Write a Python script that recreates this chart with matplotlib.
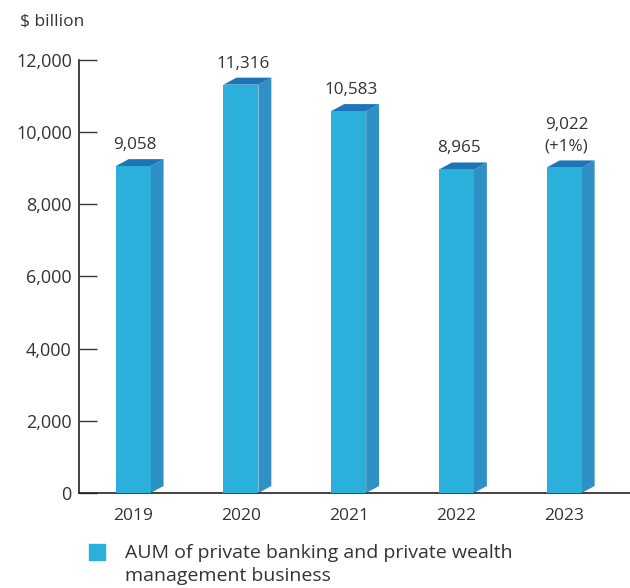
import matplotlib.pyplot as plt
from matplotlib.patches import Polygon, Rectangle

years = ["2019", "2020", "2021", "2022", "2023"]
aum = [9058, 11316, 10583, 8965, 9022]
value_labels = ["9,058", "11,316", "10,583", "8,965", "9,022\n(+1%)"]
yticks = [0, 2000, 4000, 6000, 8000, 10000, 12000]
legend_text = "AUM of private banking and private wealth\nmanagement business"

FRONT = "#2ab0db"
SIDE = "#2f90c6"
TOP = "#1b75b6"
TEXT = "#333333"

plt.rcParams['font.family'] = ['Open Sans', 'DejaVu Sans']

fig = plt.figure(figsize=(6.3, 5.88), dpi=100)
ax = fig.add_axes([0.125, 0.1616, 0.875, 0.7364])

width = 0.324
dx = 0.12      # depth of the fake 3d box, x units
dy = 194       # depth of the fake 3d box, y units

xs = list(range(len(years)))
ax.bar(xs, aum, width=width, color=FRONT, zorder=3)
for x, v in zip(xs, aum):
    r = x + width / 2
    l = x - width / 2
    side = [(r, 0), (r + dx, dy), (r + dx, v + dy), (r, v)]
    top = [(l, v), (r, v), (r + dx, v + dy), (l + dx, v + dy)]
    ax.add_patch(Polygon(side, closed=True, color=SIDE, lw=0, zorder=2))
    ax.add_patch(Polygon(top, closed=True, color=TOP, lw=0, zorder=2))

for x, v, lab in zip(xs, aum, value_labels):
    ax.text(x + 0.02, v + 360, lab, ha="center", va="bottom", fontsize=12.3,
            color=TEXT, linespacing=1.45)

ax.set_xlim(-0.505, 4.61)
ax.set_ylim(0, 12000)
ax.set_yticks(yticks)
ax.set_yticklabels([f"{t:,}" for t in yticks])
ax.set_xticks(xs)
ax.set_xticklabels(years)
ax.tick_params(axis="y", direction="in", length=13, width=1, colors=TEXT,
               labelsize=13, pad=5)
ax.tick_params(axis="x", length=0, labelsize=12.5, colors=TEXT, pad=11)
ax.spines["top"].set_visible(False)
ax.spines["right"].set_visible(False)
for s in ("left", "bottom"):
    ax.spines[s].set_color("#222222")
    ax.spines[s].set_linewidth(1.2)

fig.text(0.032, 0.963, "$ billion", fontsize=12.5, color=TEXT, va="center")

# legend swatch and caption
fig.patches.append(Rectangle((0.141, 0.047), 0.025, 0.028, color=FRONT,
                             transform=fig.transFigure, figure=fig))
fig.text(0.198, 0.075, legend_text, fontsize=14, color=TEXT, va="top",
         linespacing=1.35)

fig.savefig("out.png", dpi=100)
